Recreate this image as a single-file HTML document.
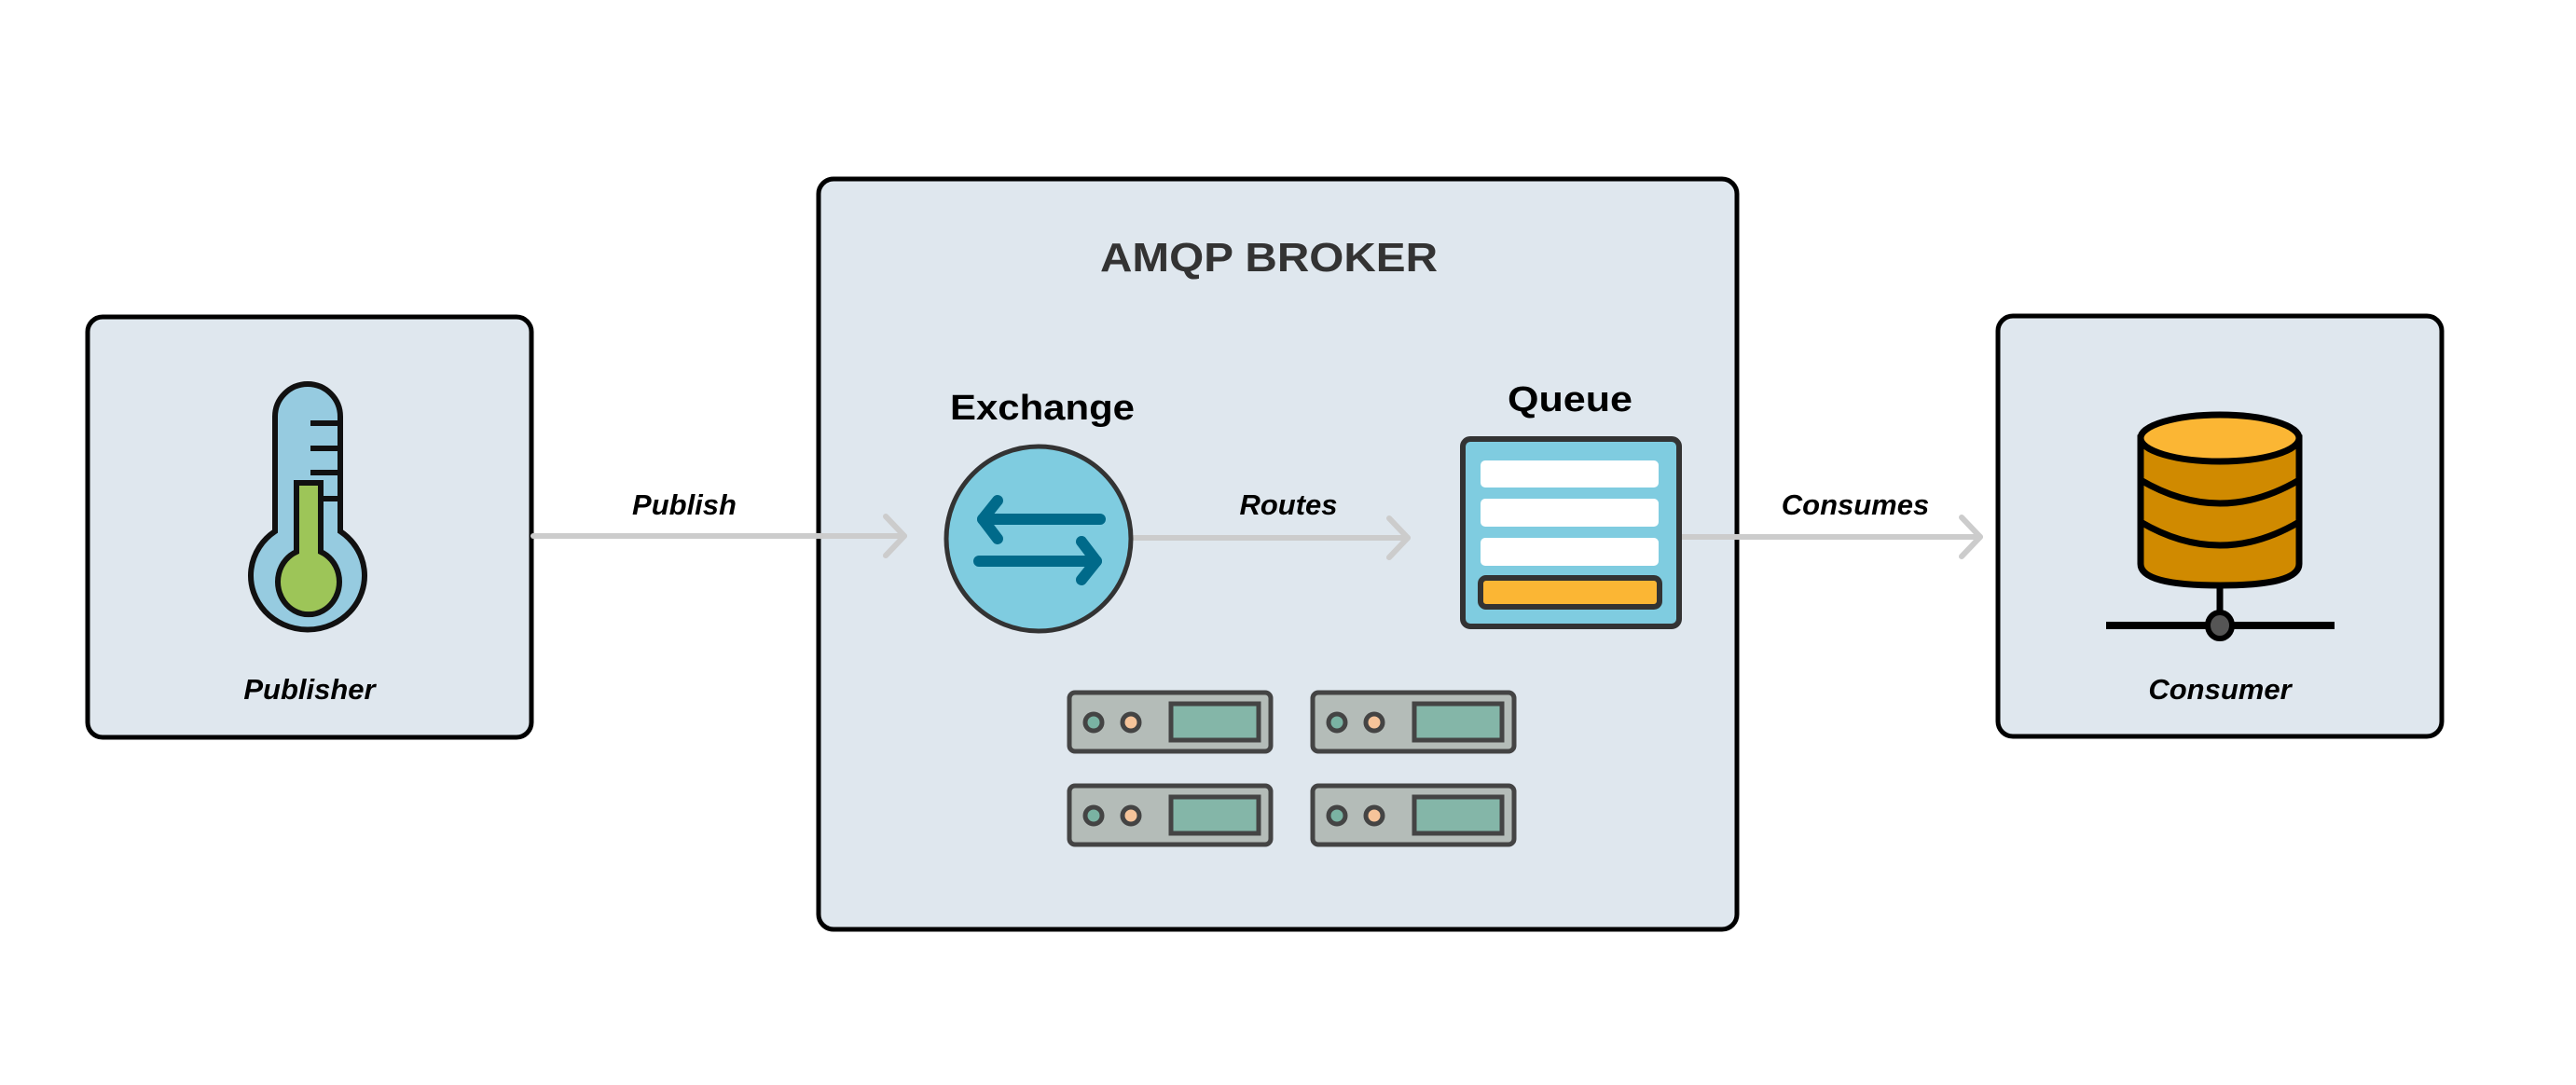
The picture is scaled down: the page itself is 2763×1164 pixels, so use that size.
<!DOCTYPE html>
<html><head><meta charset="utf-8"><style>
html,body{margin:0;padding:0;background:#fff;}
svg{display:block;}
text{font-family:"Liberation Sans",sans-serif;}
</style></head><body>
<svg width="2763" height="1164" viewBox="0 0 2763 1164" xmlns="http://www.w3.org/2000/svg">
<rect width="2763" height="1164" fill="#fff"/>
<!-- boxes -->
<rect x="94" y="340" width="476" height="451" rx="16" fill="#dfe7ee" stroke="#000" stroke-width="5"/>
<rect x="878" y="192" width="985" height="805" rx="16" fill="#dfe7ee" stroke="#000" stroke-width="5"/>
<rect x="2143" y="339" width="476" height="451" rx="16" fill="#dfe7ee" stroke="#000" stroke-width="5"/>

<!-- arrows -->
<g stroke="#cccccc" stroke-width="6" fill="none" stroke-linecap="round" stroke-linejoin="round">
<line x1="572" y1="575" x2="970" y2="575"/>
<polyline points="950,554 970,575 950,596"/>
<line x1="1213" y1="577" x2="1510" y2="577"/>
<polyline points="1490,556 1510,577 1490,598"/>
<line x1="1802" y1="576" x2="2124" y2="576"/>
<polyline points="2104,555 2124,576 2104,597"/>
</g>
<g font-style="italic" font-weight="bold" font-size="31" fill="#000" text-anchor="middle">
<text x="734" y="552">Publish</text>
<text x="1382" y="552">Routes</text>
<text x="1990" y="552">Consumes</text>
<text x="332" y="750">Publisher</text>
<text x="2381" y="750">Consumer</text>
</g>

<text x="1180" y="291" font-size="44" font-weight="bold" fill="#333" textLength="362" lengthAdjust="spacingAndGlyphs">AMQP BROKER</text>
<text x="1019" y="450" font-size="38" font-weight="bold" fill="#000" textLength="198" lengthAdjust="spacingAndGlyphs">Exchange</text>
<text x="1617" y="441" font-size="38" font-weight="bold" fill="#000" textLength="134" lengthAdjust="spacingAndGlyphs">Queue</text>

<!-- thermometer -->
<path d="M295,447 A35,35 0 0 1 365,447 L365,570 A61,58 0 1 1 295,570 Z" fill="#96cbe0" stroke="#111" stroke-width="6"/>
<g stroke="#111" stroke-width="6">
<line x1="333" y1="454" x2="365" y2="454"/>
<line x1="333" y1="481" x2="365" y2="481"/>
<line x1="333" y1="507" x2="365" y2="507"/>
<line x1="345" y1="535" x2="365" y2="535"/>
</g>
<path d="M318,518 L344,518 L344,592 A33,35 0 1 1 318,592 Z" fill="#9dc558" stroke="#111" stroke-width="6"/>

<!-- exchange -->
<ellipse cx="1114" cy="578" rx="99" ry="99" fill="#7fcce0" stroke="#333" stroke-width="5"/>
<g stroke="#006a8a" stroke-width="12" stroke-linecap="round" fill="none" stroke-linejoin="round">
<line x1="1054" y1="557" x2="1180" y2="557"/>
<polyline points="1070,537 1054,557 1070,578"/>
<line x1="1050" y1="602" x2="1176" y2="602"/>
<polyline points="1160,581 1176,602 1160,622"/>
</g>

<!-- queue -->
<rect x="1569" y="471" width="232" height="201" rx="8" fill="#7fcce0" stroke="#333" stroke-width="6"/>
<rect x="1588" y="494" width="191" height="29" rx="5" fill="#fff"/>
<rect x="1588" y="535" width="191" height="30" rx="5" fill="#fff"/>
<rect x="1588" y="577" width="191" height="30" rx="5" fill="#fff"/>
<rect x="1588" y="620" width="192" height="31" rx="6" fill="#fbb634" stroke="#333" stroke-width="6"/>

<!-- servers -->
<g id="srv">
<rect x="1147" y="743" width="216" height="63" rx="6" fill="#b4bcb8" stroke="#444" stroke-width="5"/>
<ellipse cx="1173" cy="775" rx="9" ry="9" fill="#7ab3a3" stroke="#444" stroke-width="5"/>
<ellipse cx="1213" cy="775" rx="9" ry="9" fill="#f6c49a" stroke="#444" stroke-width="5"/>
<rect x="1256" y="755" width="94" height="39" fill="#84b6a8" stroke="#444" stroke-width="5"/>
</g>
<use href="#srv" x="261" y="0"/>
<use href="#srv" x="0" y="100"/>
<use href="#srv" x="261" y="100"/>

<!-- database -->
<line x1="2381" y1="620" x2="2381" y2="670" stroke="#000" stroke-width="7"/>
<line x1="2259" y1="671" x2="2504" y2="671" stroke="#000" stroke-width="8"/>
<ellipse cx="2381" cy="671" rx="13" ry="14" fill="#555" stroke="#000" stroke-width="6"/>
<path d="M2296,470 L2296,605 Q2296,628 2381,628 Q2466,628 2466,605 L2466,470 Z" fill="#d08a00" stroke="#000" stroke-width="7"/>
<path d="M2296,515 Q2381,565 2466,515" fill="none" stroke="#000" stroke-width="7"/>
<path d="M2296,560 Q2381,610 2466,560" fill="none" stroke="#000" stroke-width="7"/>
<ellipse cx="2381" cy="470" rx="85" ry="25" fill="#fbb634" stroke="#000" stroke-width="7"/>
</svg>
</body></html>
